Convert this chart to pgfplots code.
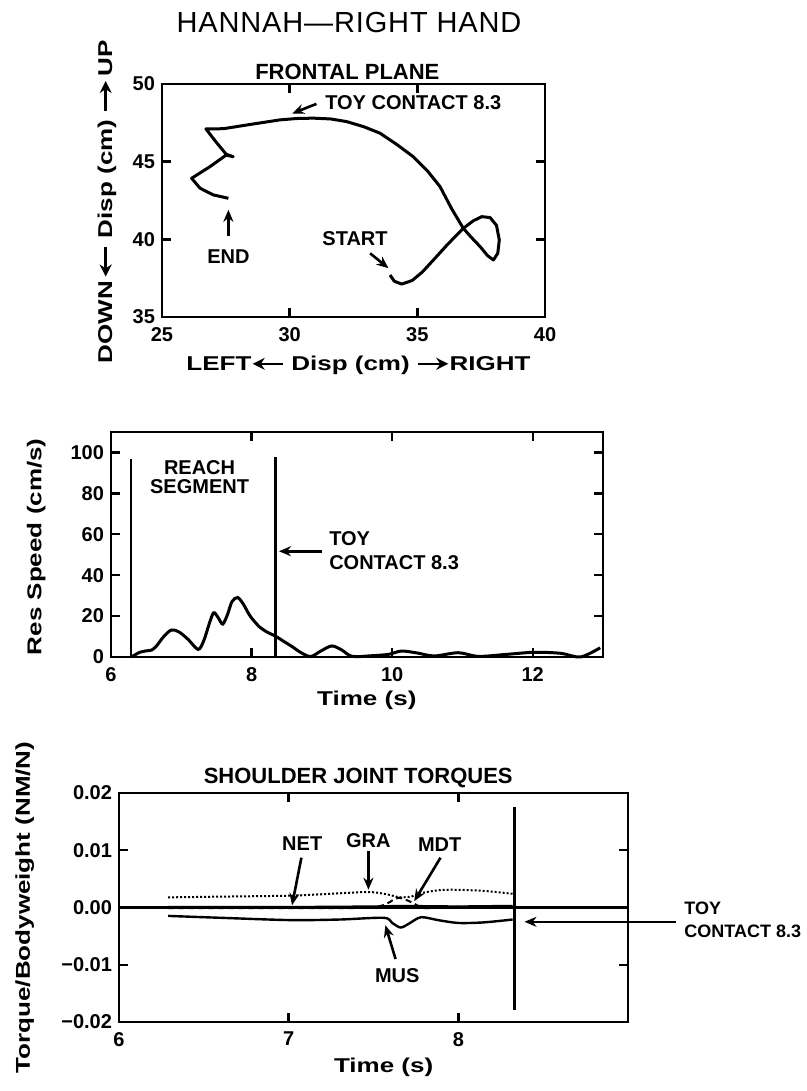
\documentclass[border=0pt]{standalone}
\usepackage{fontspec}
\setmainfont{Liberation Sans}
\newfontface\widebold{Liberation Sans Bold}[FakeStretch=1.3]
\usepackage{pgfplots}
\pgfplotsset{compat=1.18}
\usetikzlibrary{arrows.meta}

% long solid-headed arrows used inside the axis labels
\newcommand{\rarr}{\tikz[baseline=-0.6ex]\draw[-{Stealth[length=6pt,width=6pt]}, line width=1.3pt] (0,0) -- (15pt,0);}
\newcommand{\larr}{\tikz[baseline=-0.6ex]\draw[{Stealth[length=6pt,width=6pt]}-, line width=1.3pt] (0,0) -- (15pt,0);}

\pgfplotsset{
  panel/.style={
    scale only axis, clip=false,
    axis line style={line width=1.4pt},
    every tick/.style={black, line width=1.2pt},
    major tick length=4.5pt,
    tick align=inside, xtick pos=both, ytick pos=both,
    tick label style={font=\fontsize{10}{12}\selectfont\bfseries},
    xticklabel style={yshift=-1.5pt},
    /pgf/number format/assume math mode=true,
    label style={font=\fontsize{10}{12}\selectfont\widebold},
    title style={font=\fontsize{11}{13}\selectfont\bfseries, anchor=center, yshift=-6pt},
  },
}
\tikzset{
  ann/.style={font=\fontsize{10}{12}\selectfont\bfseries},
  pointer/.style={-{Stealth[length=6pt,width=5pt]}, line width=1.3pt},
}

\begin{document}
\begin{tikzpicture}
\useasboundingbox (0,0) rectangle (403.5pt,545.5pt);

\node[font=\fontsize{14.5}{16}\selectfont\addfontfeatures{LetterSpace=3}] at (174.5pt,534.25pt) {HANNAH—RIGHT HAND};

% ---------------- frontal plane path of the hand ----------------
\begin{axis}[panel, at={(81pt,387pt)}, anchor=south west,
  width=191.5pt, height=116.5pt,
  xmin=25, xmax=40, ymin=35, ymax=50,
  xtick={25,30,35,40}, ytick={35,40,45,50},
  title={FRONTAL PLANE},
  title style={at={(axis description cs:0.484,1.052)}},
  xlabel={LEFT\larr\ Disp (cm) \rarr RIGHT},
  xlabel style={at={(axis description cs:0.513,-0.206)}, anchor=center},
  ylabel={DOWN\,\larr\ Disp (cm) \rarr\,UP},
  ylabel style={at={(axis description cs:-0.144,0.494)}, anchor=center},
]
\addplot[black, line width=1.5pt, line join=round] coordinates {
 (33.93,37.70) (34.10,37.30) (34.39,37.12) (34.80,37.35) (35.20,37.90)
 (35.63,38.67) (36.20,39.70) (36.80,40.71) (37.20,41.20) (37.52,41.46)
 (37.85,41.40) (38.10,40.90) (38.21,39.96) (38.15,39.10) (37.98,38.67)
 (37.75,38.95) (37.46,39.53) (37.10,40.15) (36.80,40.71) (36.35,41.95)
 (35.89,43.39) (35.40,44.40) (34.84,45.32) (34.20,46.10) (33.54,46.83)
 (32.90,47.25) (32.23,47.58) (31.60,47.75) (30.93,47.80) (30.30,47.78)
 (29.62,47.69) (28.32,47.36) (27.40,47.12) (26.72,47.11) (27.10,46.30)
 (27.51,45.48) (27.79,45.32) (27.51,45.42) (26.88,44.68) (26.16,43.93)
 (26.49,43.29) (27.01,42.86) (27.60,42.64)
};
\node[ann, anchor=west, inner sep=0pt] at (axis cs:31.38,48.78) {TOY CONTACT 8.3};
\draw[pointer] (axis cs:31.05,48.72) -- (axis cs:30.10,48.10);
\draw[pointer] (axis cs:27.60,40.20) -- (axis cs:27.60,41.90);
\node[ann] at (axis cs:27.60,38.88) {END};
\node[ann] at (axis cs:32.56,40.07) {START};
\draw[pointer] (axis cs:33.15,39.10) -- (axis cs:33.87,38.14);
\end{axis}

% ---------------- resultant speed ----------------
\begin{axis}[panel, at={(55.5pt,217pt)}, anchor=south west,
  width=246pt, height=112.5pt,
  xmin=6, xmax=13, ymin=0, ymax=110,
  xtick={6,8,10,12}, ytick={0,20,40,60,80,100},
  xlabel={Time (s)},
  xlabel style={at={(axis description cs:0.52,-0.191)}, anchor=center},
  ylabel={Res Speed (cm/s)},
  ylabel style={at={(axis description cs:-0.152,0.49)}, anchor=center},
]
\addplot[black, line width=1.5pt, smooth, tension=0.5] coordinates {
 (6.29,0) (6.35,1.2) (6.41,2.3) (6.50,3.0) (6.58,3.4) (6.65,5.5) (6.75,10)
 (6.86,13.2) (6.97,12.2) (7.10,8.5) (7.24,3.7) (7.32,8) (7.40,16.5)
 (7.46,21.6) (7.52,19.5) (7.59,16.1) (7.66,21) (7.72,27) (7.80,29.1)
 (7.88,26) (7.98,20) (8.11,14.8) (8.22,12.2) (8.34,10.2) (8.45,7.8)
 (8.58,5.0) (8.70,2.2) (8.84,0.2) (8.98,2.8) (9.14,5.4) (9.28,3.5)
 (9.43,0.3) (9.70,0.6) (9.95,1.3) (10.13,2.9) (10.35,2.0) (10.60,0.5)
 (10.94,2.1) (11.22,0.3) (11.60,1.2) (12.02,2.3) (12.40,1.8) (12.68,0)
 (12.96,4.5)
};
\addplot[black, line width=1.1pt] coordinates {(6.29,0) (6.29,97)};
\addplot[black, line width=1.1pt] coordinates {(8.34,0) (8.34,97.7)};
\node[ann] at (axis cs:7.26,92.8) {REACH};
\node[ann] at (axis cs:7.26,83.1) {SEGMENT};
\node[ann, anchor=west, inner sep=0pt] at (axis cs:9.10,58) {TOY};
\node[ann, anchor=west, inner sep=0pt] at (axis cs:9.10,45.9) {CONTACT 8.3};
\draw[pointer] (axis cs:9.0,51.7) -- (axis cs:8.39,51.7);
\end{axis}

% ---------------- shoulder joint torques ----------------
\begin{axis}[panel, at={(59.5pt,34.5pt)}, anchor=south west,
  width=254.5pt, height=114.5pt,
  xmin=6, xmax=9, ymin=-0.02, ymax=0.02,
  xtick={6,7,8}, ytick={-0.02,-0.01,0,0.01,0.02},
  yticklabels={−0.02,−0.01,0.00,0.01,0.02},
  scaled y ticks=false,
  title={SHOULDER JOINT TORQUES},
  title style={at={(axis description cs:0.47,1.066)}},
  xlabel={Time (s)},
  xlabel style={at={(axis description cs:0.52,-0.20)}, anchor=center},
  ylabel={Torque/Bodyweight (NM/N)},
  ylabel style={at={(axis description cs:-0.185,0.5)}, anchor=center},
]
% zero reference
\addplot[black, line width=1.2pt] coordinates {(6,0) (9,0)};
% NET
\addplot[black, line width=1.0pt] coordinates {
 (6.29,0.0001) (7.00,0.0001) (7.50,0.0002) (7.66,0.0003) (8.00,0.0002) (8.32,0.0003)};
% GRA
\addplot[black, line width=1.0pt, densely dotted, smooth] coordinates {
 (6.29,0.00177) (6.60,0.0019) (7.01,0.00207) (7.25,0.0024) (7.47,0.0027)
 (7.58,0.0023) (7.65,0.0018) (7.72,0.0019) (7.78,0.0025) (7.88,0.0030)
 (7.98,0.0031) (8.15,0.0029) (8.32,0.0024)};
% MDT
\addplot[black, line width=1.0pt, densely dashed, smooth] coordinates {
 (6.29,-0.0001) (7.00,-0.0001) (7.30,-0.0001) (7.50,0.0000) (7.58,0.0007)
 (7.65,0.0017) (7.74,0.0007) (7.80,-0.0001) (8.00,0.0001) (8.32,0.0002)};
% MUS
\addplot[black, line width=1.2pt, smooth] coordinates {
 (6.29,-0.00147) (6.60,-0.0018) (7.01,-0.0022) (7.30,-0.0021) (7.56,-0.0018)
 (7.61,-0.0027) (7.66,-0.0035) (7.71,-0.0028) (7.78,-0.0017) (7.88,-0.0022)
 (8.00,-0.0027) (8.15,-0.0026) (8.32,-0.0021)};
% toy contact
\addplot[black, line width=1.2pt] coordinates {(8.33,-0.0179) (8.33,0.0175)};
\node[ann] at (axis cs:7.08,0.0111) {NET};
\draw[pointer] (axis cs:7.075,0.0087) -- (axis cs:7.02,0.0004);
\node[ann] at (axis cs:7.47,0.0117) {GRA};
\draw[pointer] (axis cs:7.47,0.0099) -- (axis cs:7.47,0.0031);
\node[ann] at (axis cs:7.89,0.0110) {MDT};
\draw[pointer] (axis cs:7.895,0.0087) -- (axis cs:7.74,0.0011);
\node[ann] at (axis cs:7.64,-0.0119) {MUS};
\draw[pointer] (axis cs:7.63,-0.0090) -- (axis cs:7.57,-0.0031);
\node[ann, anchor=west, inner sep=0pt, font=\fontsize{9}{11}\selectfont\bfseries] at (axis cs:9.33,-0.0002) {TOY};
\node[ann, anchor=west, inner sep=0pt, font=\fontsize{9}{11}\selectfont\bfseries] at (axis cs:9.33,-0.0042) {CONTACT 8.3};
\draw[pointer] (axis cs:9.28,-0.0025) -- (axis cs:8.39,-0.0025);
\end{axis}
\end{tikzpicture}
\end{document}
